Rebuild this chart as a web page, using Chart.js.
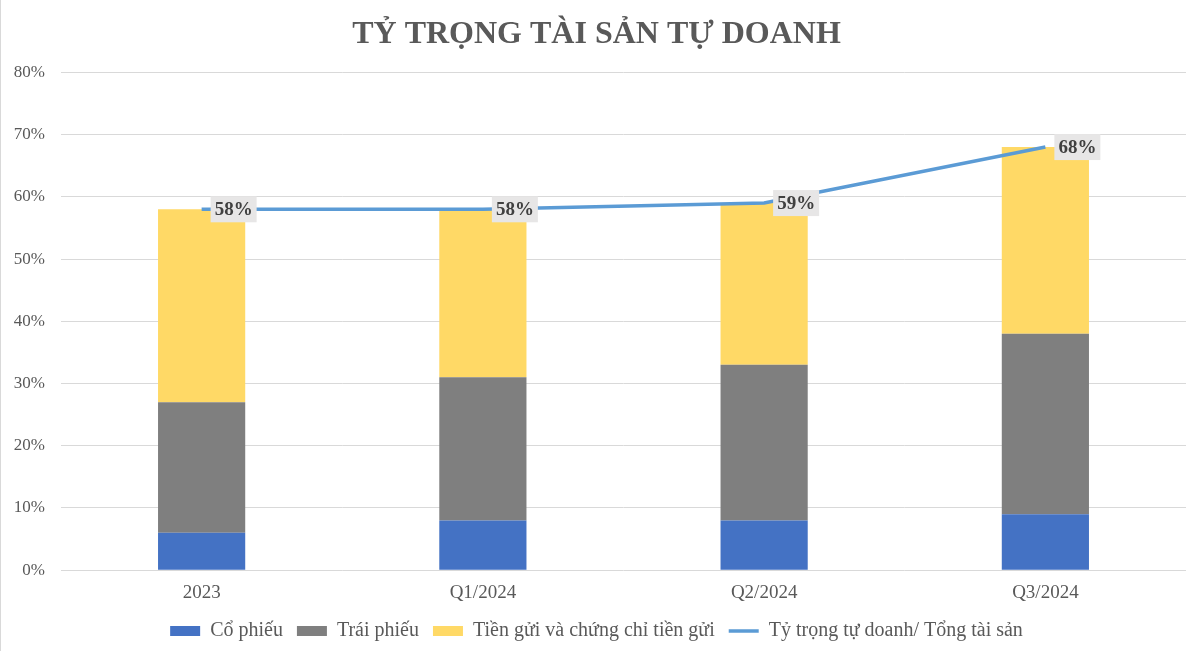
<!DOCTYPE html>
<html>
<head>
<meta charset="utf-8">
<script src="https://cdn.jsdelivr.net/npm/chart.js@4"></script>
<style>
  html, body { margin: 0; padding: 0; background: #fff; }
  #wrap { width: 1200px; height: 651px; position: relative; box-sizing: border-box; border-left: 1px solid #d9d9d9; }
</style>
</head>
<body>
<div id="wrap"><canvas id="chart"></canvas></div>
<script>
// Data (percent)
const categories = ['2023', 'Q1/2024', 'Q2/2024', 'Q3/2024'];
const coPhieu = [6, 8, 8, 9];
const traiPhieu = [21, 23, 25, 29];
const tienGui = [31, 27, 26, 30];
const tyTrong = [58, 58, 59, 68];

// draws the grey boxed labels next to the line points
const lineLabels = {
    id: 'lineLabels',
    afterDatasetsDraw(chart) {
        const ctx = chart.ctx;
        const meta = chart.getDatasetMeta(3);
        ctx.save();
        ctx.font = 'bold 19px "Liberation Serif"';
        ctx.textBaseline = 'middle';
        meta.data.forEach((pt, i) => {
            const text = tyTrong[i] + '%';
            const w = ctx.measureText(text).width + 8;
            const x = pt.x + 9;
            const y = pt.y;
            ctx.fillStyle = '#e7e6e6';
            ctx.fillRect(x, y - 13, w, 26);
            ctx.fillStyle = '#404040';
            ctx.fillText(text, x + 4, y + 1);
        });
        ctx.restore();
    }
};

const ctx = document.getElementById('chart').getContext('2d');
new Chart(ctx, {
    data: {
        labels: categories,
        datasets: [
            { type: 'bar', label: 'Cổ phiếu', data: coPhieu, backgroundColor: '#4472c4', pointStyle: 'rect', stack: 'a', order: 1 },
            { type: 'bar', label: 'Trái phiếu', data: traiPhieu, backgroundColor: '#7f7f7f', pointStyle: 'rect', stack: 'a', order: 1 },
            { type: 'bar', label: 'Tiền gửi và chứng chỉ tiền gửi', data: tienGui, backgroundColor: '#ffd966', pointStyle: 'rect', stack: 'a', order: 1 },
            {
                type: 'line', label: 'Tỷ trọng tự doanh/ Tổng tài sản', data: tyTrong,
                borderColor: '#5b9bd5', backgroundColor: '#5b9bd5', borderWidth: 3.5,
                pointRadius: 0, pointStyle: 'line', tension: 0, stack: 'b', order: 0
            }
        ]
    },
    options: {
        responsive: true,
        maintainAspectRatio: false,
        animation: false,
        layout: { padding: { left: 6, right: 14, top: 8, bottom: 0 } },
        datasets: { bar: { categoryPercentage: 1, barPercentage: 0.31 } },
        scales: {
            x: {
                stacked: true,
                grid: { display: false },
                border: { display: false },
                ticks: { color: '#595959', font: { family: 'Liberation Serif', size: 19 }, padding: 3 }
            },
            y: {
                stacked: true,
                min: 0,
                max: 80,
                afterFit: scale => { scale.width = 54; },
                ticks: {
                    stepSize: 10,
                    color: '#595959',
                    font: { family: 'Liberation Serif', size: 17 },
                    padding: 16,
                    callback: v => v + '%'
                },
                grid: { color: '#d9d9d9', drawTicks: false },
                border: { display: false }
            }
        },
        plugins: {
            title: {
                display: true,
                text: 'TỶ TRỌNG TÀI SẢN TỰ DOANH',
                color: '#595959',
                font: { family: 'Liberation Serif', size: 32, weight: 'bold' },
                padding: { top: 8, bottom: 18 }
            },
            legend: {
                position: 'bottom',
                labels: {
                    color: '#595959',
                    font: { family: 'Liberation Serif', size: 20 },
                    usePointStyle: true,
                    pointStyleWidth: 30,
                    boxHeight: 10,
                    padding: 14,
                    sort: (a, b) => a.datasetIndex - b.datasetIndex
                }
            },
            tooltip: { enabled: false }
        }
    },
    plugins: [lineLabels]
});
</script>
</body>
</html>
